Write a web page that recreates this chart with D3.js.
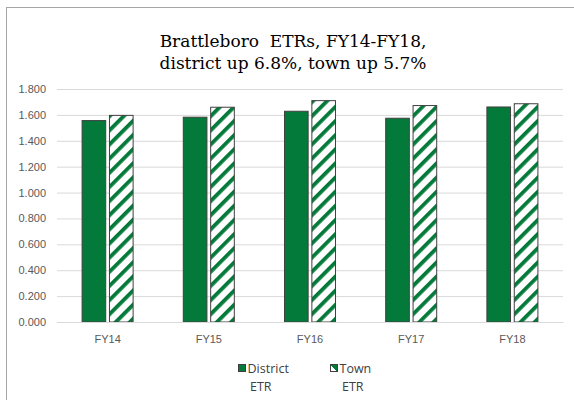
<!DOCTYPE html>
<html>
<head>
<meta charset="utf-8">
<script src="https://cdn.jsdelivr.net/npm/d3@7"></script>
<style>
  body { margin: 0; background: #fff; }
  svg { display: block; }
  .title { font-family: "DejaVu Serif", serif; }
  .lbl { font-family: "Liberation Sans", Arial, sans-serif; }
  .leg { font-family: "Open Sans", sans-serif; }
</style>
</head>
<body>
<svg id="chart" width="574" height="400"></svg>
<script>
// data
const years = ["FY14", "FY15", "FY16", "FY17", "FY18"];
const districtEtr = [1.560, 1.586, 1.632, 1.578, 1.665];
const townEtr = [1.600, 1.663, 1.714, 1.676, 1.690];
const yTicks = [0, 0.2, 0.4, 0.6, 0.8, 1.0, 1.2, 1.4, 1.6, 1.8];
const seriesNames = ["District ETR", "Town ETR"];

const green = "#047A3A";
const svg = d3.select("#chart");

// outer frame
svg.append("rect")
    .attr("x", 6.5).attr("y", 7.5)
    .attr("width", 600).attr("height", 420)
    .attr("fill", "#fff").attr("stroke", "#a6a6a6");

// hatch for the town bars
const defs = svg.append("defs");
const pat = defs.append("pattern")
    .attr("id", "hatch")
    .attr("patternUnits", "userSpaceOnUse")
    .attr("width", 10).attr("height", 10)
    .attr("patternTransform", "rotate(45)");
pat.append("rect").attr("width", 10).attr("height", 10).attr("fill", "#fff");
pat.append("rect").attr("width", 3.8).attr("height", 10).attr("fill", green);

const plotL = 57, plotR = 563, plotT = 89, plotB = 322;

const y = d3.scaleLinear().domain([0, 1.8]).range([plotB, plotT]);
const x0 = d3.scaleBand().domain(years).range([plotL, plotR])
    .paddingInner(0.486).paddingOuter(0.243);
const x1 = d3.scaleBand().domain(seriesNames).range([0, x0.bandwidth()])
    .paddingInner(0.1);

// title
const title = svg.append("text")
    .attr("class", "title")
    .attr("text-anchor", "middle")
    .attr("font-size", 17).attr("fill", "#000");
title.append("tspan").attr("x", 293).attr("y", 47).text("Brattleboro\u00a0 ETRs, FY14-FY18,");
title.append("tspan").attr("x", 293).attr("y", 69).text("district up 6.8%, town up 5.7%");

// grid
const yAxis = svg.append("g")
    .attr("transform", `translate(${plotL},0)`)
    .call(d3.axisLeft(y).tickValues(yTicks).tickSize(-(plotR - plotL))
        .tickFormat(d3.format(".3f")).tickPadding(11));
yAxis.select(".domain").remove();
yAxis.selectAll("line").attr("stroke", "#d9d9d9");
yAxis.selectAll("text")
    .attr("class", "lbl")
    .attr("font-size", 11).attr("fill", "#595959");

// bars
const groups = svg.append("g").selectAll("g")
    .data(years.map((yr, i) => ({ yr, vals: [districtEtr[i], townEtr[i]] })))
    .join("g")
    .attr("transform", d => `translate(${x0(d.yr)},0)`);

groups.selectAll("rect")
    .data(d => d.vals.map((v, j) => ({ name: seriesNames[j], v })))
    .join("rect")
    .attr("x", d => x1(d.name) + 0.5)
    .attr("y", d => y(d.v) + 0.5)
    .attr("width", x1.bandwidth() - 1)
    .attr("height", d => plotB - y(d.v) - 0.5)
    .attr("fill", d => d.name === "District ETR" ? green : "url(#hatch)")
    .attr("stroke", "#404040")
    .attr("stroke-width", 1);

// x axis
const xAxis = svg.append("g")
    .attr("transform", `translate(0,${plotB})`)
    .call(d3.axisBottom(x0).tickSize(0).tickPadding(13));
xAxis.select(".domain").attr("stroke", "#d9d9d9");
xAxis.selectAll("text")
    .attr("class", "lbl")
    .attr("font-size", 11).attr("fill", "#595959");

// legend
const legend = [
    { name: "District", x: 238, fill: green },
    { name: "Town", x: 330, fill: "url(#legHatch)" }
];
const lp = defs.append("linearGradient").attr("id", "legHatch")
    .attr("x1", 0).attr("y1", 1).attr("x2", 1).attr("y2", 0);
lp.append("stop").attr("offset", "0.5").attr("stop-color", "#fff");
lp.append("stop").attr("offset", "0.5").attr("stop-color", green);

const lg = svg.append("g").selectAll("g").data(legend).join("g")
    .attr("transform", d => `translate(${d.x},0)`);
lg.append("rect")
    .attr("x", 0.5).attr("y", 364.5).attr("width", 7).attr("height", 7)
    .attr("fill", d => d.fill).attr("stroke", "#404040");
lg.append("text")
    .attr("class", "leg")
    .attr("x", 9.5).attr("y", 372.5)
    .attr("font-size", 12.5).attr("fill", "#404040")
    .text(d => d.name);
lg.append("text")
    .attr("class", "leg")
    .attr("x", 12).attr("y", 391)
    .attr("font-size", 12.5).attr("fill", "#404040")
    .text("ETR");
</script>
</body>
</html>
